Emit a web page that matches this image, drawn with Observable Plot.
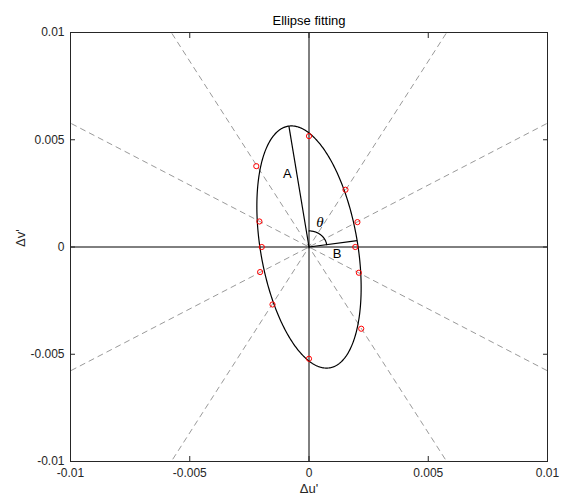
<!DOCTYPE html>
<html><head><meta charset="utf-8">
<script src="https://cdn.jsdelivr.net/npm/d3@7"></script>
<script src="https://cdn.jsdelivr.net/npm/@observablehq/plot@0.6"></script>
<style>body{margin:0;background:#fff} svg{display:block}</style>
</head><body><div id="chart"></div>
<script>
const title = "Ellipse fitting";
const xLabel = "\u0394u'";
const yLabel = "\u0394v'";
const tickValues = [-0.01, -0.005, 0, 0.005, 0.01];
const tickLabels = ["-0.01", "-0.005", "0", "0.005", "0.01"];
// measured points (red circles)
const pointX = [0, -0.00221, -0.00208, -0.00198, -0.00205, -0.00153, 0, 0.00219, 0.00209, 0.00194, 0.00203, 0.00153];
const pointY = [0.00517, 0.00377, 0.00119, 0, -0.00117, -0.00268, -0.00521, -0.00381, -0.0012, 0, 0.00116, 0.00267];
// dashed sampling directions (degrees)
const rayAngles = [30, 60, 120, 150];
// fitted ellipse parameters
const ellipseA = 0.0057;
const ellipseB = 0.00204;
const ellipseTiltDeg = 8.5;
const arcRadius = 0.00075;
// annotation labels
const annText = ["A", "B"];
const annX = [-0.00091, 0.00118];
const annY = [0.00341, -0.00031];
const thetaText = ["\u03B8"];
const thetaX = [0.00046];
const thetaY = [0.00118];

const labelMap = new Map(tickValues.map((v, i) => [v, tickLabels[i]]));
const rad = Math.PI / 180;
const phi = ellipseTiltDeg * rad;
const u = [Math.cos(phi + Math.PI / 2), Math.sin(phi + Math.PI / 2)];
const v = [Math.cos(phi), Math.sin(phi)];
const ellipsePts = d3.range(0, 361).map(k => {
  const t = k * rad;
  return {x: ellipseA * Math.cos(t) * u[0] + ellipseB * Math.sin(t) * v[0],
          y: ellipseA * Math.cos(t) * u[1] + ellipseB * Math.sin(t) * v[1]};
});
const axisSegs = [
  {x1: 0, y1: 0, x2: ellipseA * u[0], y2: ellipseA * u[1]},
  {x1: 0, y1: 0, x2: ellipseB * v[0], y2: ellipseB * v[1]}
];
const arcPts = d3.range(ellipseTiltDeg, 90.01, 1).map(a => ({x: arcRadius * Math.cos(a * rad), y: arcRadius * Math.sin(a * rad)}));
const R = 0.03;

const chart = Plot.plot({
  width: 564, height: 497,
  marginLeft: 70, marginRight: 17, marginTop: 32, marginBottom: 36,
  x: {domain: [-0.01, 0.01]},
  y: {domain: [-0.01, 0.01]},
  style: {fontFamily: '"Liberation Sans", Arial, Helvetica, sans-serif', fontSize: "12px", color: "#262626", background: "#fff"},
  marks: [
    Plot.link(rayAngles, {
      x1: a => -R * Math.cos(a * rad), y1: a => -R * Math.sin(a * rad),
      x2: a => R * Math.cos(a * rad), y2: a => R * Math.sin(a * rad),
      stroke: "#9a9a9a", strokeWidth: 1, strokeDasharray: "6,4", clip: true
    }),
    Plot.ruleX([0], {stroke: "black", strokeWidth: 1}),
    Plot.ruleY([0], {stroke: "black", strokeWidth: 1}),
    Plot.line(ellipsePts, {x: "x", y: "y", stroke: "black", strokeWidth: 1.2}),
    Plot.link(axisSegs, {x1: "x1", y1: "y1", x2: "x2", y2: "y2", stroke: "black", strokeWidth: 1.2}),
    Plot.line(arcPts, {x: "x", y: "y", stroke: "black", strokeWidth: 1.2}),
    Plot.dot(pointX, {x: pointX, y: pointY, r: 2.6, stroke: "red", fill: "none", strokeWidth: 1}),
    Plot.text(annText, {x: annX, y: annY, text: d => d, fontSize: 13, fill: "black", textAnchor: "middle", lineAnchor: "middle"}),
    Plot.text(thetaText, {x: thetaX, y: thetaY, text: d => d, fontSize: 15, fill: "black", fontStyle: "italic", fontFamily: '"Liberation Serif", "DejaVu Serif", serif', textAnchor: "middle", lineAnchor: "middle"}),
    Plot.frame({stroke: "#262626"}),
    Plot.axisX(tickValues, {anchor: "bottom", tickSize: -5, tickPadding: 12, tickFormat: d => labelMap.get(d), label: null}),
    Plot.axisX(tickValues, {anchor: "top", tickSize: -5, tickFormat: () => "", label: null}),
    Plot.axisY(tickValues, {anchor: "left", tickSize: -5, tickPadding: 11, tickFormat: d => labelMap.get(d), label: null}),
    Plot.axisY(tickValues, {anchor: "right", tickSize: -5, tickFormat: () => "", label: null}),
    Plot.text([title], {frameAnchor: "top", dy: -8, lineAnchor: "bottom", fontSize: 13, fill: "black"}),
    Plot.text([xLabel], {frameAnchor: "bottom", dy: 31, lineAnchor: "bottom", fontSize: 13, fill: "#262626"}),
    Plot.text([yLabel], {frameAnchor: "left", dx: -50, rotate: -90, lineAnchor: "middle", fontSize: 13, fill: "#262626"})
  ]
});
document.getElementById("chart").appendChild(chart);
</script>
</body></html>
